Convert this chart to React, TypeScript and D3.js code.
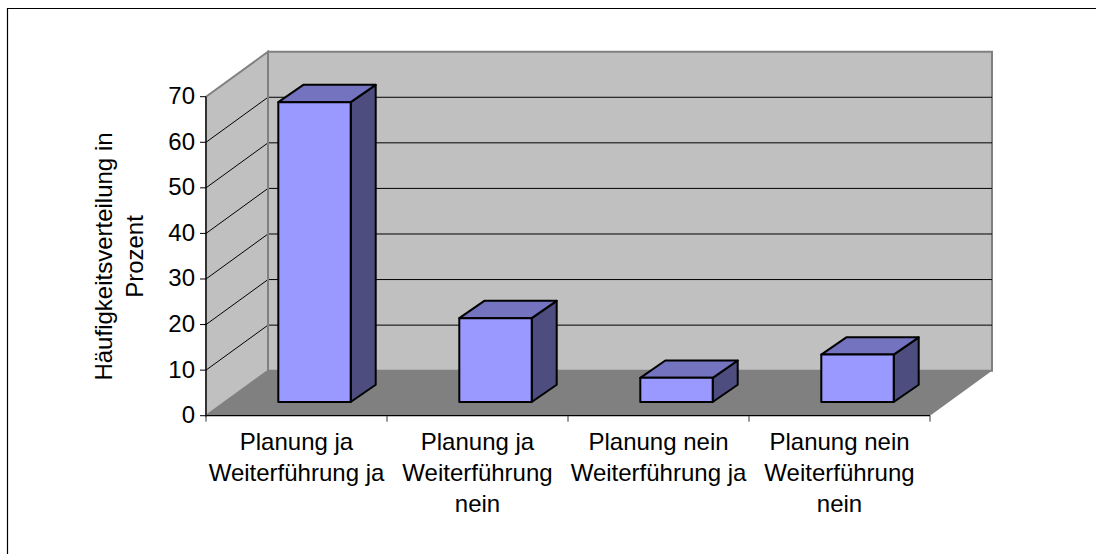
import * as d3 from "d3";

const categories = [
  ["Planung ja", "Weiterführung ja"],
  ["Planung ja", "Weiterführung", "nein"],
  ["Planung nein", "Weiterführung ja"],
  ["Planung nein", "Weiterführung", "nein"],
];
const values = [65.8, 18.4, 5.3, 10.4];
const yTicks = [0, 10, 20, 30, 40, 50, 60, 70];
const yTitle = ["Häufigkeitsverteilung in", "Prozent"];

const width = 1096;
const height = 554;
const fontFamily = "'Liberation Sans', Arial, sans-serif";
const fontSize = 24;

// front edge of the floor, the rest is sheared back from it
const x = d3
  .scaleBand<number>()
  .domain(d3.range(categories.length))
  .range([206, 930])
  .paddingInner(0.6)
  .paddingOuter(0.3);
const y = d3.scaleLinear().domain([0, 70]).range([415.7, 96.7]);

const depthX = 62;
const depthY = -45;
// how far the bar's front and back faces sit from the floor's front edge
const barShiftX = 18;
const barShiftY = -13.7;
const barDepthX = 25;
const barDepthY = -17.3;

const poly = (pts: [number, number][]) => {
  const line = d3.line();
  return line(pts) + "Z";
};

export default function App() {
  const x0 = x.range()[0];
  const x1 = x.range()[1];
  const y0 = y(0);
  const yTop = y(70);

  return (
    <svg
      width={width}
      height={height}
      style={{ position: "absolute", left: 0, top: 0, background: "#fff" }}
      fontFamily={fontFamily}
      fontSize={fontSize}
    >
      {/* chart frame, open to the right and below */}
      <path d={`M7.5,${height}V8.5H${width}`} fill="none" stroke="#000" strokeWidth={1.2} />

      {/* walls and floor */}
      <path
        d={poly([
          [x0 + depthX, yTop + depthY],
          [x1 + depthX, yTop + depthY],
          [x1 + depthX, y0 + depthY],
          [x0 + depthX, y0 + depthY],
        ])}
        fill="#c0c0c0"
        stroke="#808080"
        strokeWidth={2}
      />
      <path
        d={poly([
          [x0, yTop],
          [x0 + depthX, yTop + depthY],
          [x0 + depthX, y0 + depthY],
          [x0, y0],
        ])}
        fill="#c0c0c0"
        stroke="#808080"
        strokeWidth={2}
      />
      <path
        d={poly([
          [x0, y0],
          [x0 + depthX, y0 + depthY],
          [x1 + depthX, y0 + depthY],
          [x1, y0],
        ])}
        fill="#808080"
      />

      {/* gridlines run along the side wall and the back wall */}
      {yTicks
        .filter((t) => t > 0 && t < 70)
        .map((t) => (
          <path
            key={t}
            d={`M${x0},${y(t)}L${x0 + depthX},${y(t) + depthY}H${x1 + depthX}`}
            fill="none"
            stroke="#000"
            strokeWidth={1}
          />
        ))}
      <path
        d={`M${x0 + depthX},${yTop + depthY}V${y0 + depthY}`}
        fill="none"
        stroke="#808080"
        strokeWidth={2}
      />

      {/* bars */}
      {values.map((v, i) => {
        const left = x(i)! + barShiftX;
        const right = left + x.bandwidth();
        const bottom = y(0) + barShiftY;
        const top = bottom - (y(0) - y(v));
        return (
          <g key={i} stroke="#000" strokeWidth={2} strokeLinejoin="round">
            <path
              d={poly([
                [right, top],
                [right + barDepthX, top + barDepthY],
                [right + barDepthX, bottom + barDepthY],
                [right, bottom],
              ])}
              fill="#4d4d80"
            />
            <path
              d={poly([
                [left, top],
                [left + barDepthX, top + barDepthY],
                [right + barDepthX, top + barDepthY],
                [right, top],
              ])}
              fill="#7373bf"
            />
            <path
              d={poly([
                [left, top],
                [right, top],
                [right, bottom],
                [left, bottom],
              ])}
              fill="#9999ff"
            />
          </g>
        );
      })}

      {/* axes */}
      <path d={`M${x0},${yTop}V${y0}H${x1}`} fill="none" stroke="#000" strokeWidth={1.2} />
      {yTicks.map((t) => (
        <g key={t}>
          <line x1={x0 - 6} x2={x0} y1={y(t)} y2={y(t)} stroke="#000" />
          <text x={x0 - 11} y={y(t) - 1} dy="0.35em" textAnchor="end">
            {t}
          </text>
        </g>
      ))}
      {d3.range(categories.length + 1).map((i) => {
        const tx = x0 + i * x.step();
        return <line key={i} x1={tx} x2={tx} y1={y0} y2={y0 + 6} stroke="#333" />;
      })}
      {categories.map((lines, i) => (
        <text key={i} x={x(i)! + x.bandwidth() / 2} textAnchor="middle">
          {lines.map((l, j) => (
            <tspan key={j} x={x(i)! + x.bandwidth() / 2} y={449.5 + j * 31}>
              {l}
            </tspan>
          ))}
        </text>
      ))}

      {/* axis title */}
      <text transform="translate(112,256.5) rotate(-90)" textAnchor="middle">
        {yTitle.map((l, j) => (
          <tspan key={j} x={0} y={j * 31}>
            {l}
          </tspan>
        ))}
      </text>
    </svg>
  );
}
